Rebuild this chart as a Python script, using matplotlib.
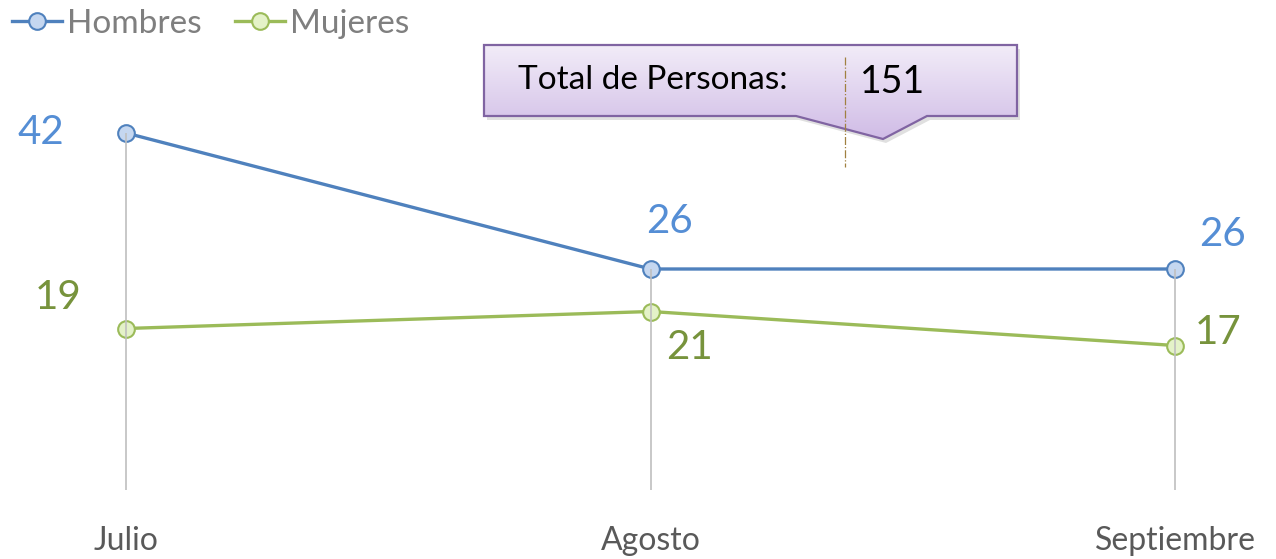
"""Line chart: Hombres / Mujeres per month, with a 'Total de Personas' callout."""

import matplotlib
matplotlib.use("Agg")
import matplotlib.pyplot as plt
import numpy as np
from matplotlib.patches import Polygon

months = ["Julio", "Agosto", "Septiembre"]
hombres = [42, 26, 26]
mujeres = [19, 21, 17]
total_personas = 151

plt.rcParams["font.family"] = ["Lato", "DejaVu Sans"]

BLUE = "#4F81BD"
GREEN = "#9BBB59"

fig = plt.figure(figsize=(12.76, 5.59), dpi=100)
W, H = 1276, 559
base_px = 490
ax = fig.add_axes([0, (H - base_px) / H, 1, base_px / H])
x = np.arange(len(months))
ax.set_xlim(-126 / 524.5, (W - 126) / 524.5)
ax.set_ylim(0, base_px / 8.5)
for s in ax.spines.values():
    s.set_visible(False)
ax.set_yticks([])
ax.set_xticks(x)
ax.set_xticklabels(months, fontsize=23, color="#595959")
ax.tick_params(axis="x", length=0, pad=26)

tops = np.maximum(hombres, mujeres)
ax.vlines(x, 0, tops, color="#BFBFBF", lw=1.2, zorder=4)

ax.plot(x, hombres, "-o", color=BLUE, lw=2.4, ms=12, mfc="#C5D7F0",
        mec=BLUE, mew=1.5, label="Hombres", zorder=3)
ax.plot(x, mujeres, "-o", color=GREEN, lw=2.4, ms=12, mfc="#E4F2C8",
        mec=GREEN, mew=1.5, label="Mujeres", zorder=3)

# data labels (offsets in points)
h_off = [(-61, 0), (14, 34), (34, 25)]
m_off = [(-49, 22), (28, -26), (31, 9)]
for i in range(len(months)):
    ax.annotate(str(hombres[i]), (x[i], hombres[i]), xytext=h_off[i],
                textcoords="offset points", ha="center", va="center",
                fontsize=29, color="#558ED5")
    ax.annotate(str(mujeres[i]), (x[i], mujeres[i]), xytext=m_off[i],
                textcoords="offset points", ha="center", va="center",
                fontsize=29, color="#77933C")

fig.legend(loc="upper left", bbox_to_anchor=(-0.006, 1.02), ncol=2, frameon=False,
           fontsize=24, labelcolor="#7F7F7F", handlelength=1.5,
           handletextpad=0.15, columnspacing=1.0, borderaxespad=0.2)

# callout overlay in pixel coordinates
ov = fig.add_axes([0, 0, 1, 1])
ov.set_xlim(0, W)
ov.set_ylim(H, 0)
ov.axis("off")
shape = [(484, 45), (1017, 45), (1017, 116), (927, 116), (883, 139),
         (796, 116), (484, 116)]
shadow = Polygon([(px + 3, py + 4) for px, py in shape], closed=True,
                 fc="#000000", alpha=0.12, ec="none", zorder=1)
ov.add_patch(shadow)
poly = Polygon(shape, closed=True, fc="none", ec="#8064A2", lw=1.6, zorder=3)
ov.add_patch(poly)
grad = np.linspace(0, 1, 256).reshape(-1, 1)
top_c = np.array([0xF2, 0xEC, 0xF8]) / 255
bot_c = np.array([0xD0, 0xBC, 0xE6]) / 255
img = top_c + grad[..., None] * (bot_c - top_c)
img = np.repeat(img, 2, axis=1)
im = ov.imshow(img, extent=(484, 1017, 139, 45), aspect="auto", zorder=2)
im.set_clip_path(poly)
ov.set_xlim(0, W)
ov.set_ylim(H, 0)
ov.text(518, 80, "Total de Personas:", fontsize=24, color="black",
        va="center", ha="left", zorder=5)
ov.text(860, 82, str(total_personas), fontsize=27, color="black",
        va="center", ha="left", zorder=5)
ov.plot([845, 845], [57, 167], color="#A08040", lw=0.9, ls="-.", zorder=5)

fig.savefig("out.png", dpi=100)
